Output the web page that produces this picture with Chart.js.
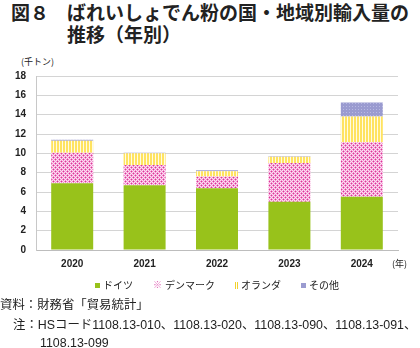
<!DOCTYPE html>
<html>
<head>
<meta charset="utf-8">
<script src="https://cdn.jsdelivr.net/npm/chart.js@4.4.1/dist/chart.umd.min.js"></script>
<style>
    body {
        margin: 0;
        width: 420px;
        height: 348px;
        position: relative;
        overflow: hidden;
        background: #fff;
        color: #222;
        font-family: "Noto Sans CJK JP", sans-serif;
    }
    .abs { position: absolute; white-space: nowrap; }
    .title { font-size: 19px; font-weight: bold; line-height: 22px; }
    .note { font-size: 12.4px; line-height: 16px; font-family: "Liberation Sans", "Noto Sans CJK JP", sans-serif; }
    #legend { left: 95px; top: 278px; display: flex; gap: 20px; font-size: 10px; line-height: 14px; }
    #legend .item { display: flex; align-items: center; }
    #legend .mark { width: 5px; height: 5px; margin-right: 3px; display: inline-block; }
</style>
</head>
<body>
<div class="abs title" style="left:11px;top:1px;">図８</div>
<div class="abs title" style="left:67px;top:1px;">ばれいしょでん粉の国・地域別輸入量の<br>推移（年別）</div>
<div class="abs" style="left:21px;top:55px;font-size:9px;">(千トン)</div>
<div style="position:absolute;left:0;top:60px;width:420px;height:210px;">
    <canvas id="chart"></canvas>
</div>
<div class="abs" style="left:392px;top:257px;font-size:9px;">(年)</div>
<div class="abs" id="legend"></div>
<div class="abs note" style="left:0;top:297px;">資料：財務省「貿易統計」</div>
<div class="abs note" style="left:13px;top:317px;">注：HSコード1108.13-010、1108.13-020、1108.13-090、1108.13-091、</div>
<div class="abs note" style="left:40px;top:335px;">1108.13-099</div>

<script>
    const years = ['2020', '2021', '2022', '2023', '2024'];
    const germany = [6.9, 6.7, 6.4, 5.0, 5.5];
    const denmark = [3.15, 2.1, 1.2, 4.0, 5.65];
    const netherlands = [1.25, 1.2, 0.55, 0.65, 2.65];
    const others = [0.1, 0.05, 0.1, 0.05, 1.45];
    const seriesNames = ['ドイツ', 'デンマーク', 'オランダ', 'その他'];

    // petits motifs de remplissage (tuiles pixel par pixel)
    function makePattern(rows, colors) {
        const c = document.createElement('canvas');
        c.width = rows[0].length;
        c.height = rows.length;
        const ctx = c.getContext('2d');
        rows.forEach(function (row, y) {
            for (let x = 0; x < row.length; x++) {
                ctx.fillStyle = colors[row[x]];
                ctx.fillRect(x, y, 1, 1);
            }
        });
        return ctx.createPattern(c, 'repeat');
    }

    const pinkFill = makePattern(
        ['wpwp', 'pmpw', 'wpwp', 'pwpm'],
        { w: '#fce0f2', p: '#f190cd', m: '#dc3796' }
    );
    const yellowFill = makePattern(
        ['yyw'],
        { y: '#ffe360', w: '#fffbe4' }
    );
    const purpleFill = makePattern(
        ['ppp', 'plp', 'ppp'],
        { p: '#9a9bd0', l: '#b8b9e2' }
    );

    const fills = ['#98c21b', pinkFill, yellowFill, purpleFill];
    const values = [germany, denmark, netherlands, others];

    // légende en HTML
    const marks = [
        'background:#98c21b;',
        'background:none;color:#e05fb4;width:auto;height:auto;font-size:9px;',
        'background:none;width:1px;height:7px;border-left:1px solid #f2d22e;border-right:1px solid #f2d22e;',
        'background:#9a9bd0;'
    ];
    const legendEl = document.getElementById('legend');
    seriesNames.forEach(function (name, i) {
        const item = document.createElement('span');
        item.className = 'item';
        const m = document.createElement('span');
        m.className = 'mark';
        m.style.cssText += marks[i];
        if (i === 1) m.textContent = '※';
        item.appendChild(m);
        item.appendChild(document.createTextNode(name));
        legendEl.appendChild(item);
    });

    const tickFont = { family: "'Liberation Sans', sans-serif", size: 10, weight: 'bold' };

    new Chart(document.getElementById('chart'), {
        type: 'bar',
        data: {
            labels: years,
            datasets: seriesNames.map(function (name, i) {
                return {
                    label: name,
                    data: values[i],
                    backgroundColor: fills[i],
                    borderWidth: 0,
                    categoryPercentage: 1,
                    barPercentage: 0.58,
                };
            }),
        },
        options: {
            responsive: true,
            maintainAspectRatio: false,
            animation: false,
            layout: { padding: { top: 10, right: 22, left: 0, bottom: 0 } },
            plugins: {
                legend: { display: false },
                tooltip: { enabled: false },
            },
            scales: {
                x: {
                    stacked: true,
                    grid: { display: false, drawTicks: false },
                    border: { color: '#bdbdbd' },
                    ticks: { padding: 8, color: '#222', font: tickFont },
                    afterFit(scale) { scale.height = 20; },
                },
                y: {
                    stacked: true,
                    min: 0,
                    max: 18,
                    ticks: { stepSize: 2, padding: 10, color: '#222', font: tickFont },
                    grid: { color: '#d4d4d4', drawTicks: false },
                    border: { color: '#c8c8c8' },
                    afterFit(scale) { scale.width = 36; },
                },
            },
        },
    });
</script>
</body>
</html>
